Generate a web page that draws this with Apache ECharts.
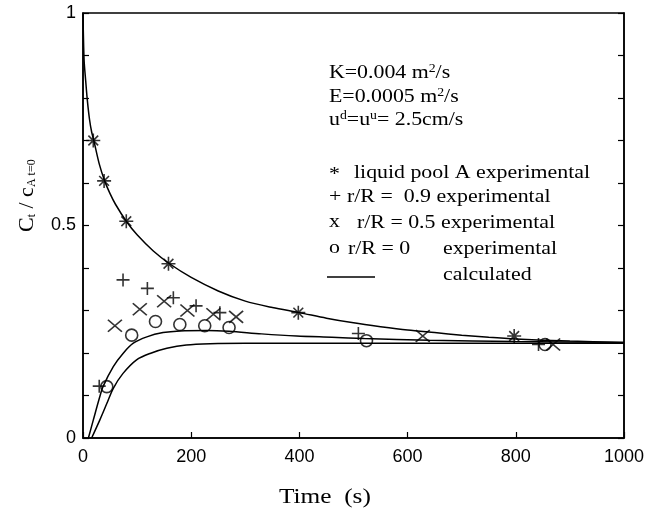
<!DOCTYPE html>
<html>
<head>
<meta charset="utf-8">
<script src="https://cdn.jsdelivr.net/npm/echarts@6/dist/echarts.min.js"></script>
<style>
  html, body { margin: 0; padding: 0; background: #fff; }
  #main { width: 661px; height: 515px; }
</style>
</head>
<body>
<div id="main"></div>
<script>
// values: [time (s), Ct / cA,t=0]
const poolA = [[19, 0.70], [39, 0.605], [80, 0.51], [158, 0.41], [398, 0.295], [797, 0.24]]
const r09 = [[30, 0.122], [74, 0.372], [119, 0.352], [167, 0.33], [209, 0.311], [253, 0.295], [509, 0.246], [842, 0.22]]
const r05 = [[59, 0.264], [105, 0.303], [150, 0.322], [193, 0.3], [241, 0.291], [283, 0.285], [628, 0.24], [869, 0.22]]
const r00 = [[44, 0.121], [90, 0.242], [134, 0.274], [179, 0.267], [225, 0.264], [270, 0.26], [524, 0.229], [854, 0.22]]

// calculated curves
const calcPool = [[0, 1.0], [2, 0.89], [5, 0.84], [8, 0.795], [12, 0.75], [16, 0.72], [20, 0.70], [30, 0.645],
  [40, 0.605], [50, 0.575], [60, 0.55], [80, 0.51], [100, 0.478], [130, 0.44], [160, 0.41], [200, 0.378],
  [250, 0.346], [300, 0.322], [350, 0.307], [400, 0.295], [450, 0.282], [500, 0.271], [550, 0.262],
  [600, 0.254], [650, 0.248], [700, 0.242], [750, 0.237], [800, 0.233], [900, 0.228], [1000, 0.225]]
const calcMid = [[10, 0], [19, 0.042], [31, 0.097], [37, 0.121], [56, 0.168], [74, 0.199], [93, 0.223],
  [118, 0.238], [148, 0.248], [179, 0.252], [229, 0.253], [270, 0.251], [330, 0.245], [395, 0.24],
  [460, 0.237], [520, 0.234], [640, 0.23], [800, 0.227], [1000, 0.225]]
const calcLow = [[16, 0], [31, 0.042], [44, 0.081], [56, 0.117], [74, 0.152], [99, 0.184], [124, 0.199],
  [155, 0.211], [191, 0.219], [235, 0.222], [300, 0.223], [500, 0.223], [700, 0.223], [1000, 0.223]]

const yLabels = ['0', '0.5', '1']

const chart = echarts.init(document.getElementById('main'))

const serif = '"Liberation Serif", "DejaVu Serif", serif'
const sans = '"Liberation Sans", Arial, sans-serif'

const starPath = 'path://M0,-1L0,1M-1,0L1,0M-0.7,-0.7L0.7,0.7M-0.7,0.7L0.7,-0.7'
const plusPath = 'path://M0,-1L0,1M-1,0L1,0'
const crossPath = 'path://M-1,-0.85L1,0.85M-1,0.85L1,-0.85'

const markStyle = { color: 'none', borderColor: '#000', borderWidth: 1.6 }

function scatter(name, data, symbol, size) {
  return {
    name: name,
    type: 'scatter',
    data: data,
    symbol: symbol,
    symbolSize: size,
    itemStyle: markStyle,
    silent: true,
    z: 3
  }
}

function curve(name, data) {
  return {
    name: name,
    type: 'line',
    data: data,
    showSymbol: false,
    smooth: 0.3,
    lineStyle: { color: '#000', width: 1.5 },
    silent: true,
    z: 2
  }
}

// serif text, slightly stretched like the scan
function txt(x, y, rich, extra) {
  return Object.assign({
    type: 'text',
    x: x,
    y: y,
    scaleX: 1.15,
    style: {
      text: rich,
      fill: '#000',
      font: '19px ' + serif,
      verticalAlign: 'middle',
      rich: {
        n: { fontFamily: serif, fontSize: 19, color: '#000' },
        sup: { fontFamily: serif, fontSize: 12, color: '#000', verticalAlign: 'top', padding: [0, 0, 8, 0] }
      }
    }
  }, extra || {})
}

const option = {
  backgroundColor: '#fff',
  animation: false,
  grid: {
    left: 83,
    right: 37,
    top: 13,
    bottom: 77,
    show: true,
    borderColor: '#000',
    borderWidth: 1.5
  },
  xAxis: {
    type: 'value',
    min: 0,
    max: 1000,
    interval: 200,
    axisLine: { lineStyle: { color: '#000', width: 1.5 } },
    axisTick: { inside: true, length: 6, lineStyle: { color: '#000', width: 1.2 } },
    axisLabel: {
      color: '#000',
      fontFamily: sans,
      fontSize: 18,
      margin: 10,
      formatter: function (v) { return String(v) }
    },
    splitLine: { show: false }
  },
  yAxis: [
    {
      type: 'value',
      min: 0,
      max: 1,
      interval: 0.1,
      axisLine: { show: true, lineStyle: { color: '#000', width: 1.5 } },
      axisTick: { inside: true, length: 6, lineStyle: { color: '#000', width: 1.2 } },
      axisLabel: {
        color: '#000',
        fontFamily: sans,
        fontSize: 18,
        margin: 7,
        formatter: function (v) {
          const s = String(Math.round(v * 10) / 10)
          return yLabels.indexOf(s) >= 0 ? s : ''
        }
      },
      splitLine: { show: false }
    },
    {
      type: 'value',
      position: 'right',
      min: 0,
      max: 1,
      interval: 0.1,
      axisLine: { show: true, lineStyle: { color: '#000', width: 1.5 } },
      axisTick: { inside: true, length: 6, lineStyle: { color: '#000', width: 1.2 } },
      axisLabel: { show: false },
      splitLine: { show: false }
    }
  ],
  series: [
    curve('calc pool A', calcPool),
    curve('calc r/R mid', calcMid),
    curve('calc r/R low', calcLow),
    scatter('liquid pool A experimental', poolA, starPath, 14),
    scatter('r/R = 0.9 experimental', r09, plusPath, 13),
    scatter('r/R = 0.5 experimental', r05, crossPath, [14, 12]),
    scatter('r/R = 0 experimental', r00, 'circle', 12)
  ],
  graphic: [
    // parameters
    txt(329, 73, '{n|K=0.004 m}{sup|2}{n|/s}'),
    txt(329, 97, '{n|E=0.0005 m}{sup|2}{n|/s}'),
    txt(329, 120, '{n|u}{sup|d}{n|=u}{sup|u}{n|= 2.5cm/s}'),
    // legend
    txt(329, 175, '{n|*}'),
    txt(354, 173, '{n|liquid pool A experimental}'),
    txt(329, 197, '{n|+}'),
    txt(347, 197, '{n|r/R =  0.9 experimental}'),
    txt(329, 222, '{n|x}'),
    txt(357, 223, '{n|r/R = 0.5 experimental}'),
    txt(329, 248, '{n|o}'),
    txt(348, 249, '{n|r/R = 0}'),
    txt(443, 249, '{n|experimental}'),
    {
      type: 'line',
      shape: { x1: 327, y1: 277, x2: 375, y2: 277 },
      style: { stroke: '#000', lineWidth: 1.3 }
    },
    txt(443, 275, '{n|calculated}'),
    // axis titles
    txt(279, 497, '', {
      style: {
        text: 'Time  (s)',
        fill: '#000',
        font: '22px ' + serif,
        verticalAlign: 'middle'
      }
    }),
    {
      type: 'text',
      x: 27,
      y: 232,
      rotation: Math.PI / 2,
      style: {
        text: '{b|C}{s|t}{b| / c}{s|A t=0}',
        fill: '#000',
        verticalAlign: 'middle',
        rich: {
          b: { fontFamily: serif, fontSize: 22, color: '#000' },
          s: { fontFamily: serif, fontSize: 12, color: '#000', verticalAlign: 'bottom', padding: [10, 0, 0, 0] }
        }
      }
    }
  ]
}

chart.setOption(option)
</script>
</body>
</html>
